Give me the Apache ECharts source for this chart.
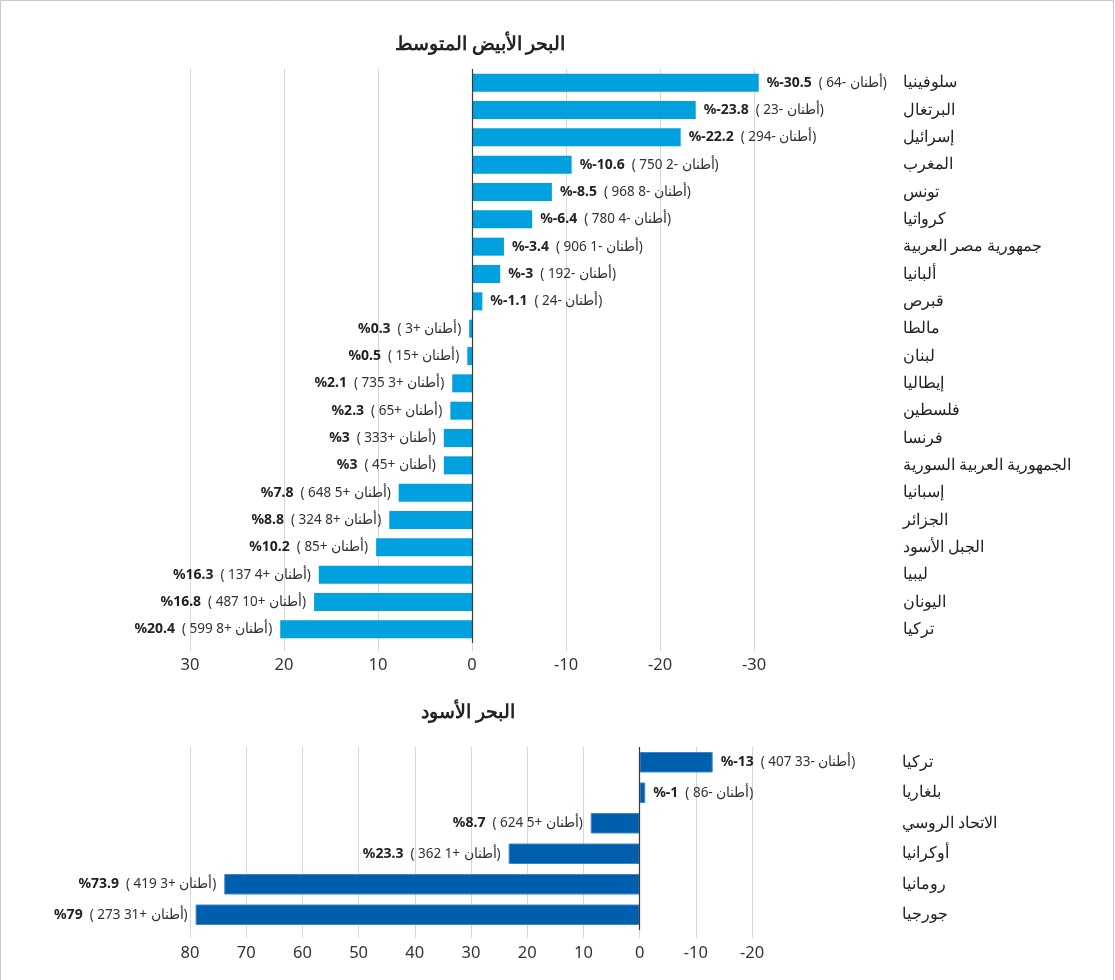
<!DOCTYPE html>
<html>
<head>
<meta charset="utf-8">
<script src="https://cdn.jsdelivr.net/npm/echarts@6/dist/echarts.min.js"></script>
<style>
  html, body { margin: 0; padding: 0; background: #fff; }
  #chart { width: 1115px; height: 980px; }
</style>
</head>
<body>
<div id="chart"></div>
<script>
// Mediterranean Sea: change in catch (%) and in tonnes, per country
const medCountries = [
  'سلوفينيا', 'البرتغال', 'إسرائيل', 'المغرب', 'تونس', 'كرواتيا',
  'جمهورية مصر العربية', 'ألبانيا', 'قبرص', 'مالطا', 'لبنان', 'إيطاليا',
  'فلسطين', 'فرنسا', 'الجمهورية العربية السورية', 'إسبانيا', 'الجزائر',
  'الجبل الأسود', 'ليبيا', 'اليونان', 'تركيا'
];
const medShare = [
  -30.5, -23.8, -22.2, -10.6, -8.5, -6.4, -3.4, -3, -1.1,
  0.3, 0.5, 2.1, 2.3, 3, 3, 7.8, 8.8, 10.2, 16.3, 16.8, 20.4
];
const medTonnes = [
  -64, -23, -294, -2750, -8968, -4780, -1906, -192, -24,
  3, 15, 3735, 65, 333, 45, 5648, 8324, 85, 4137, 10487, 8599
];

// Black Sea
const blackCountries = ['تركيا', 'بلغاريا', 'الاتحاد الروسي', 'أوكرانيا', 'رومانيا', 'جورجيا'];
const blackShare = [-13, -1, 8.7, 23.3, 73.9, 79];
const blackTonnes = [-33407, -86, 5624, 1362, 3419, 31273];

// Value-axis bounds (the axis is reversed: positive to the left)
const medAxis = { min: -30, max: 30, interval: 10 };
const blackAxis = { min: -20, max: 80, interval: 10 };

const medTitle = 'البحر الأبيض المتوسط';
const blackTitle = 'البحر الأسود';
const tonnesWord = 'أطنان';

const FONT = '"Noto Sans", "Open Sans", sans-serif';

// Number part of "( 750 2- أطنان)": digit groups right-to-left, sign after
function tonnesNumber(t) {
  const sign = t < 0 ? '-' : '+';
  const digits = String(Math.abs(t));
  const groups = [];
  for (let i = digits.length; i > 0; i -= 3) {
    groups.unshift(digits.slice(Math.max(0, i - 3), i));
  }
  return groups.reverse().join(' ') + sign;
}

function barData(values) {
  return values.map(v => ({
    value: v,
    label: { position: v < 0 ? 'right' : 'left' }
  }));
}

const labelRich = {
  b: { fontFamily: FONT, fontWeight: 'bold', fontSize: 14, color: '#222' },
  n: { fontFamily: FONT, fontSize: 13.5, color: '#333' },
  w: { fontFamily: FONT, fontSize: 13.5, color: '#333' }
};

// Each run is drawn on its own so Latin and Arabic parts keep this order
function makeLabel(tonnes) {
  return {
    show: true,
    distance: 8,
    formatter: p =>
      '{b|%' + p.value + '}{n|  ( ' + tonnesNumber(tonnes[p.dataIndex]) + ' }' +
      '{w|' + tonnesWord + '}{n|)}',
    rich: labelRich
  };
}

const zeroLine = {
  silent: true,
  symbol: 'none',
  label: { show: false },
  lineStyle: { color: '#3a3a3a', type: 'solid', width: 1.2 },
  data: [{ xAxis: 0 }]
};

function valueAxis(gridIndex, bounds, margin) {
  return {
    type: 'value',
    gridIndex: gridIndex,
    inverse: true,
    min: bounds.min,
    max: bounds.max,
    interval: bounds.interval,
    axisLine: { show: false },
    axisTick: { show: true, length: 8, lineStyle: { color: '#d6d6d6' } },
    splitLine: { show: true, lineStyle: { color: '#d6d6d6', width: 1 } },
    axisLabel: { fontFamily: FONT, fontSize: 16.5, color: '#333', margin: margin }
  };
}

function categoryAxis(gridIndex, names, margin) {
  return {
    type: 'category',
    gridIndex: gridIndex,
    data: names,
    inverse: true,
    position: 'right',
    axisLine: { show: false },
    axisTick: { show: false },
    axisLabel: { fontFamily: FONT, fontSize: 16, color: '#222', align: 'left', margin: margin }
  };
}

const chart = echarts.init(document.getElementById('chart'), null, { renderer: 'canvas' });

chart.setOption({
  backgroundColor: '#fff',
  animation: false,
  graphic: [
    {
      type: 'rect',
      shape: { x: 0.5, y: 0.5, width: 1113, height: 990 },
      style: { fill: 'none', stroke: '#c8c8c8', lineWidth: 1 },
      silent: true
    },
    {
      type: 'text',
      x: 480, y: 45,
      style: {
        text: medTitle, fontFamily: FONT, fontWeight: 'bold', fontSize: 18.5,
        fill: '#222', align: 'center', verticalAlign: 'middle'
      }
    },
    {
      type: 'text',
      x: 468, y: 713,
      style: {
        text: blackTitle, fontFamily: FONT, fontWeight: 'bold', fontSize: 18.5,
        fill: '#222', align: 'center', verticalAlign: 'middle'
      }
    }
  ],
  grid: [
    { left: 190, right: 361, top: 69, height: 574, containLabel: false },
    { left: 190, right: 363, top: 747, height: 183, containLabel: false }
  ],
  xAxis: [valueAxis(0, medAxis, 14), valueAxis(1, blackAxis, 15)],
  yAxis: [categoryAxis(0, medCountries, 149), categoryAxis(1, blackCountries, 150)],
  series: [
    {
      type: 'bar',
      xAxisIndex: 0,
      yAxisIndex: 0,
      data: barData(medShare),
      barWidth: 18,
      clip: false,
      itemStyle: { color: '#00a1de' },
      label: makeLabel(medTonnes),
      markLine: zeroLine
    },
    {
      type: 'bar',
      xAxisIndex: 1,
      yAxisIndex: 1,
      data: barData(blackShare),
      barWidth: 20.5,
      clip: false,
      itemStyle: { color: '#005fad', borderColor: '#3f86c9', borderWidth: 1 },
      label: makeLabel(blackTonnes),
      markLine: zeroLine
    }
  ]
});
</script>
</body>
</html>
